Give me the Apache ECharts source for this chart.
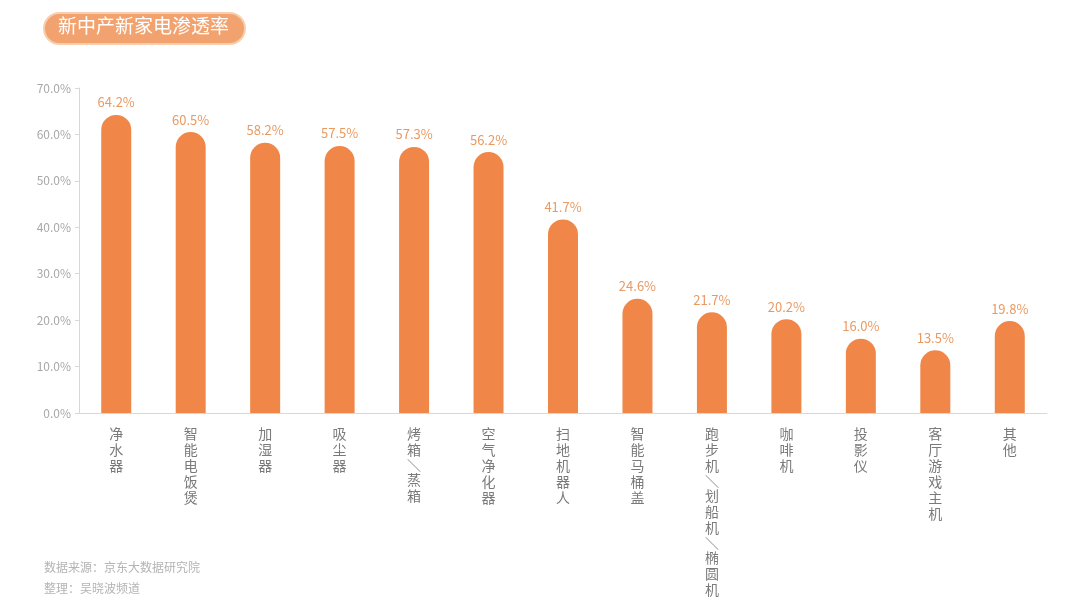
<!DOCTYPE html>
<html>
<head>
<meta charset="utf-8">
<script src="https://cdn.jsdelivr.net/npm/echarts@6/dist/echarts.min.js"></script>
<style>
  html, body { margin: 0; padding: 0; background: #fff; }
  #chart { width: 1080px; height: 603px; }
</style>
</head>
<body>
<div id="chart"></div>
<script>
const categories = ['净水器', '智能电饭煲', '加湿器', '吸尘器', '烤箱/蒸箱', '空气净化器', '扫地机器人', '智能马桶盖', '跑步机/划船机/椭圆机', '咖啡机', '投影仪', '客厅游戏主机', '其他']
const values = [64.2, 60.5, 58.2, 57.5, 57.3, 56.2, 41.7, 24.6, 21.7, 20.2, 16.0, 13.5, 19.8]
const title = '新中产新家电渗透率'
const notes = ['数据来源：京东大数据研究院', '整理：吴晓波频道']

const font = '"Noto Sans CJK SC", "Noto Sans", sans-serif'
const chart = echarts.init(document.getElementById('chart'))

chart.setOption({
    backgroundColor: '#fff',
    animation: false,
    grid: {
        left: 79,
        right: 33,
        top: 88,
        bottom: 190,
        outerBoundsMode: 'none'
    },
    graphic: [{
        type: 'rect',
        left: 43,
        top: 12,
        shape: { width: 201, height: 31, r: 15.5 },
        style: { fill: '#f2a26e', stroke: '#f8cfae', lineWidth: 2 }
    }, {
        type: 'text',
        left: 58,
        top: 16,
        style: { text: title, fill: '#fff', font: '19px ' + font }
    }, {
        type: 'text',
        left: 44,
        top: 561,
        style: { text: notes[0], fill: '#b4b4b4', font: '12px ' + font }
    }, {
        type: 'text',
        left: 44,
        top: 582,
        style: { text: notes[1], fill: '#b4b4b4', font: '12px ' + font }
    }],
    xAxis: {
        type: 'category',
        data: categories,
        axisLine: { lineStyle: { color: '#d8d8d8' } },
        axisTick: { show: false },
        axisLabel: {
            interval: 0,
            margin: 13,
            color: '#7a7a7a',
            fontSize: 14,
            lineHeight: 16,
            fontFamily: font,
            verticalAlign: 'top',
            formatter: function (v) {
                // stack characters vertically, slashes get a shorter line
                return v.split('').map(function (c) {
                    return c === '/' ? '{s|＼}' : c
                }).join('\n')
            },
            rich: {
                s: { fontSize: 14, lineHeight: 14, color: '#8a8a8a', fontFamily: font }
            }
        }
    },
    yAxis: {
        type: 'value',
        min: 0,
        max: 70,
        interval: 10,
        splitLine: { show: false },
        axisLine: { show: true, lineStyle: { color: '#d8d8d8' } },
        axisTick: { show: true, length: 4, lineStyle: { color: '#d8d8d8' } },
        axisLabel: {
            color: '#a8a8a8',
            fontSize: 12,
            fontFamily: font,
            margin: 8,
            formatter: function (v) { return v.toFixed(1) + '%' }
        }
    },
    series: [{
        type: 'bar',
        data: values,
        barWidth: 30,
        itemStyle: {
            color: '#f08748',
            borderRadius: [15, 15, 0, 0]
        },
        label: {
            show: true,
            position: 'top',
            distance: 6,
            color: '#e99a62',
            fontSize: 13,
            fontFamily: font,
            formatter: function (p) { return p.value.toFixed(1) + '%' }
        }
    }]
})
</script>
</body>
</html>
